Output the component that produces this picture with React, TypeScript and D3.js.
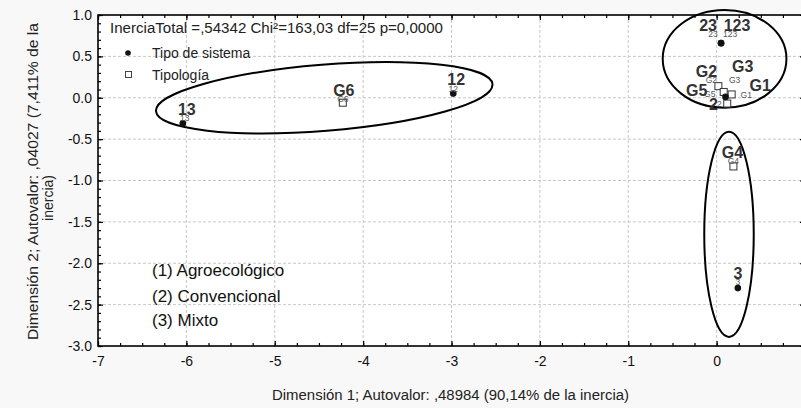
import React, { useEffect, useRef } from 'react';
import * as d3 from 'd3';

// data
const sistemaLabels = ['23', '123', '2', '12', '13', '3'];
const sistemaX = [0.05, 0.05, 0.1, -2.98, -6.04, 0.24];
const sistemaY = [0.66, 0.66, 0.01, 0.05, -0.31, -2.3];

const tipologiaLabels = ['G2', 'G5', 'G3', 'G1', 'G6', 'G4'];
const tipologiaX = [0.02, 0.08, 0.17, 0.12, -4.23, 0.19];
const tipologiaY = [0.14, 0.07, 0.04, -0.07, -0.06, -0.83];

const xTicks = [-7, -6, -5, -4, -3, -2, -1, 0];
const yTicks = [1, 0.5, 0, -0.5, -1, -1.5, -2, -2.5, -3];

// groups circled on the chart (data units)
const ellipseCx = [0.09, 0.14, -4.44];
const ellipseCy = [0.47, -1.65, 0.0];
const ellipseRx = [0.7, 0.28, 1.91];
const ellipseRy = [0.59, 1.24, 0.4];
const ellipseAngle = [0, 0, -4.6];

const statsText = 'InerciaTotal =,54342 Chi²=163,03 df=25 p=0,0000';
const legendNames = ['Tipo de sistema', 'Tipología'];
const systemNotes = ['(1) Agroecológico', '(2) Convencional', '(3) Mixto'];
const xTitle = 'Dimensión 1; Autovalor: ,48984 (90,14% de la inercia)';
const yTitle = ['Dimensión 2; Autovalor: ,04027 (7,411% de la', 'inercia)'];

// label placement (px): big dx, big dy, small dx, small dy
const labelOffsets: Record<string, number[]> = {
  '23': [-13, -18, -8, -9],
  '123': [16, -18, 9, -9],
  '2': [-12, 8, -6, 7],
  '12': [3, -14, 0, -5],
  '13': [4, -14, 2, -5],
  '3': [0, -15, 0, -6],
  G2: [-12, -15, -7, -6],
  G5: [-27, -1, -14, 2],
  G3: [11, -28, 3, -14],
  G1: [33, -18, 19, -9],
  G6: [1, -12, 0, -4],
  G4: [-1, -14, 0, -5],
};

const FONT = "'Liberation Sans', Arial, sans-serif";

export default function App() {
  const ref = useRef<SVGSVGElement>(null);

  useEffect(() => {
    draw();
    // eslint-disable-next-line react-hooks/exhaustive-deps
  }, []);

  function draw() {
    const svg = d3.select(ref.current);
    svg.selectAll('*').remove();
    const width = 801;
    const height = 408;
    const left = 98;
    const right = 805;
    const top = 15;
    const bottom = 346;

    const x = d3.scaleLinear().domain([-7, 1]).range([left, right]);
    const y = d3.scaleLinear().domain([-3, 1]).range([bottom, top]);

    svg.append('rect').attr('width', width).attr('height', height).attr('fill', '#f8f8f8');
    svg
      .append('rect')
      .attr('x', left)
      .attr('y', top)
      .attr('width', right - left)
      .attr('height', bottom - top)
      .attr('fill', '#fff');

    // grid
    const grid = svg.append('g').attr('stroke', '#c8c8c8').attr('stroke-dasharray', '3,2').attr('stroke-width', 1);
    grid
      .selectAll('.gx')
      .data(xTicks.slice(1))
      .join('line')
      .attr('x1', (d) => x(d))
      .attr('x2', (d) => x(d))
      .attr('y1', top)
      .attr('y2', bottom);
    grid
      .selectAll('.gy')
      .data(yTicks.slice(1, -1))
      .join('line')
      .attr('x1', left)
      .attr('x2', right)
      .attr('y1', (d) => y(d))
      .attr('y2', (d) => y(d));

    // axes
    const xMinor = d3.range(-7, 1.001, 0.25);
    const yMinor = d3.range(-3, 1.001, 0.1);
    const styleAxis = (g: any) => {
      g.select('.domain').remove();
      g.selectAll('line').attr('stroke', '#000').attr('stroke-width', 1.2);
      g.selectAll('text').attr('font-family', FONT).attr('font-size', 14).attr('fill', '#111');
    };
    svg
      .append('g')
      .attr('transform', `translate(0,${bottom})`)
      .call(d3.axisBottom(x).tickValues(xTicks).tickSize(-5).tickPadding(10).tickFormat((d: any) => String(d)))
      .call(styleAxis);
    svg
      .append('g')
      .attr('transform', `translate(0,${bottom})`)
      .call(d3.axisBottom(x).tickValues(xMinor).tickSize(-3).tickFormat(() => ''))
      .call(styleAxis);
    svg
      .append('g')
      .attr('transform', `translate(0,${top})`)
      .call(d3.axisTop(x).tickValues(xTicks).tickSize(-5).tickFormat(() => ''))
      .call(styleAxis);
    svg
      .append('g')
      .attr('transform', `translate(0,${top})`)
      .call(d3.axisTop(x).tickValues(xMinor).tickSize(-3).tickFormat(() => ''))
      .call(styleAxis);
    svg
      .append('g')
      .attr('transform', `translate(${left},0)`)
      .call(d3.axisLeft(y).tickValues(yTicks).tickSize(-5).tickPadding(6).tickFormat((d: any) => d.toFixed(1)))
      .call(styleAxis);
    svg
      .append('g')
      .attr('transform', `translate(${left},0)`)
      .call(d3.axisLeft(y).tickValues(yMinor).tickSize(-3).tickFormat(() => ''))
      .call(styleAxis);
    svg
      .append('g')
      .attr('transform', `translate(${right},0)`)
      .call(d3.axisRight(y).tickValues(yTicks).tickSize(-5).tickFormat(() => ''))
      .call(styleAxis);
    svg
      .append('g')
      .attr('transform', `translate(${right},0)`)
      .call(d3.axisRight(y).tickValues(yMinor).tickSize(-3).tickFormat(() => ''))
      .call(styleAxis);

    svg
      .append('rect')
      .attr('x', left)
      .attr('y', top)
      .attr('width', right - left)
      .attr('height', bottom - top)
      .attr('fill', 'none')
      .attr('stroke', '#000')
      .attr('stroke-width', 1.6);

    // titles
    svg
      .append('text')
      .attr('x', 272)
      .attr('y', 400)
      .attr('textLength', 357)
      .attr('lengthAdjust', 'spacingAndGlyphs')
      .attr('font-family', FONT)
      .attr('font-size', 14)
      .attr('fill', '#222')
      .text(xTitle);
    const yt = svg.append('g').attr('font-family', FONT).attr('font-size', 14).attr('fill', '#222');
    yt.append('text')
      .attr('transform', 'translate(38,340) rotate(-90)')
      .attr('textLength', 317)
      .attr('lengthAdjust', 'spacingAndGlyphs')
      .text(yTitle[0]);
    yt.append('text')
      .attr('transform', 'translate(53,198) rotate(-90)')
      .attr('text-anchor', 'middle')
      .text(yTitle[1]);

    // stats + legend
    const lg = svg.append('g').attr('font-family', FONT).attr('font-size', 14).attr('fill', '#222');
    lg.append('text')
      .attr('x', 110)
      .attr('y', 33)
      .attr('textLength', 333)
      .attr('lengthAdjust', 'spacingAndGlyphs')
      .text(statsText);
    lg.append('circle').attr('cx', 128).attr('cy', 53).attr('r', 2.8).attr('fill', '#111');
    lg.append('rect').attr('x', 125.5).attr('y', 71.5).attr('width', 6).attr('height', 6).attr('fill', '#fff').attr('stroke', '#444');
    lg.selectAll('.lt')
      .data(legendNames)
      .join('text')
      .attr('x', 152)
      .attr('y', (d, i) => 58 + i * 22)
      .text((d) => d);

    // ellipses
    svg
      .append('g')
      .selectAll('ellipse')
      .data(ellipseCx)
      .join('ellipse')
      .attr('cx', 0)
      .attr('cy', 0)
      .attr('rx', (d, i) => x(ellipseRx[i]) - x(0))
      .attr('ry', (d, i) => y(0) - y(ellipseRy[i]))
      .attr('transform', (d, i) => `translate(${x(d)},${y(ellipseCy[i])}) rotate(${ellipseAngle[i]})`)
      .attr('fill', 'none')
      .attr('stroke', '#000')
      .attr('stroke-width', 2);

    // points
    const sistema = sistemaLabels.map((label, i) => ({ label, x: sistemaX[i], y: sistemaY[i] }));
    const tipologia = tipologiaLabels.map((label, i) => ({ label, x: tipologiaX[i], y: tipologiaY[i] }));

    svg
      .append('g')
      .selectAll('rect')
      .data(tipologia)
      .join('rect')
      .attr('x', (d) => x(d.x) - 3.5)
      .attr('y', (d) => y(d.y) - 3.5)
      .attr('width', 7)
      .attr('height', 7)
      .attr('fill', '#fff')
      .attr('stroke', '#333');
    svg
      .append('g')
      .selectAll('circle')
      .data(sistema)
      .join('circle')
      .attr('cx', (d) => x(d.x))
      .attr('cy', (d) => y(d.y))
      .attr('r', 3.3)
      .attr('fill', '#111');

    const all = [...sistema, ...tipologia];
    const labels = svg.append('g').attr('font-family', FONT).attr('text-anchor', 'middle').attr('dominant-baseline', 'central');
    labels
      .selectAll('.small')
      .data(all)
      .join('text')
      .attr('x', (d) => x(d.x) + labelOffsets[d.label][2])
      .attr('y', (d) => y(d.y) + labelOffsets[d.label][3])
      .attr('font-size', 8.5)
      .attr('fill', '#555')
      .text((d) => d.label);
    labels
      .selectAll('.big')
      .data(all)
      .join('text')
      .attr('x', (d) => x(d.x) + labelOffsets[d.label][0])
      .attr('y', (d) => y(d.y) + labelOffsets[d.label][1])
      .attr('font-size', 16)
      .attr('font-weight', 'bold')
      .attr('fill', '#333')
      .text((d) => d.label);

    // notes
    svg
      .append('g')
      .attr('font-family', FONT)
      .attr('font-size', 17)
      .attr('fill', '#111')
      .selectAll('text')
      .data(systemNotes)
      .join('text')
      .attr('x', 152)
      .attr('y', (d, i) => [276, 302, 326][i])
      .text((d) => d);
  }

  return (
    <svg ref={ref} width={801} height={408} style={{ position: 'absolute', left: 0, top: 0 }} />
  );
}
